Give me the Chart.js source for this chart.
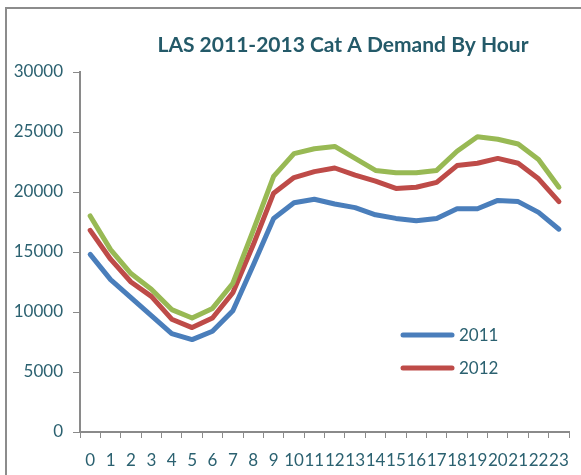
<!DOCTYPE html>
<html>
<head>
<meta charset="utf-8">
<script src="https://cdn.jsdelivr.net/npm/chart.js@4.4.1/dist/chart.umd.min.js"></script>
<style>
  html, body { margin: 0; padding: 0; background: #fff; }
  #wrap { width: 581px; height: 475px; position: relative; }
</style>
</head>
<body>
<div id="wrap"><canvas id="chart" width="581" height="475"></canvas></div>
<script>
const hours = ['0','1','2','3','4','5','6','7','8','9','10','11','12','13','14','15','16','17','18','19','20','21','22','23'];
const demand2011 = [14800, 12700, 11200, 9700, 8200, 7700, 8400, 10100, 13900, 17800, 19100, 19400, 19000, 18700, 18100, 17800, 17600, 17800, 18600, 18600, 19300, 19200, 18300, 16900];
const demand2012 = [16800, 14400, 12500, 11300, 9400, 8700, 9500, 11600, 15600, 19900, 21200, 21700, 22000, 21400, 20900, 20300, 20400, 20800, 22200, 22400, 22800, 22400, 21100, 19200];
const demand2013 = [18000, 15200, 13200, 11900, 10200, 9500, 10300, 12400, 16800, 21300, 23200, 23600, 23800, 22800, 21800, 21600, 21600, 21800, 23400, 24600, 24400, 24000, 22700, 20400];
const yTicks = [0, 5000, 10000, 15000, 20000, 25000, 30000];

const textColor = '#2b6170';
const axisColor = '#8a8a8a';

// frame, title and the two-entry legend like the Excel original
const decor = {
  id: 'decor',
  beforeDraw(chart) {
    const ctx = chart.ctx;
    ctx.save();
    ctx.fillStyle = '#fff';
    ctx.fillRect(0, 0, chart.width, chart.height);
    ctx.strokeStyle = '#8c8c8c';
    ctx.lineWidth = 2;
    ctx.strokeRect(6, 8, 800, 800);
    ctx.restore();
  },
  afterDraw(chart) {
    const ctx = chart.ctx;
    const area = chart.chartArea;
    ctx.save();
    ctx.fillStyle = '#245a69';
    ctx.font = 'bold 21px Lato';
    ctx.textAlign = 'center';
    ctx.textBaseline = 'middle';
    ctx.fillText('LAS 2011-2013 Cat A Demand By Hour', 343, 45);

    const shown = chart.data.datasets.slice(0, 2);
    ctx.font = '17px Lato';
    ctx.textAlign = 'left';
    shown.forEach((ds, i) => {
      const y = area.top + 263 + i * 33;
      ctx.strokeStyle = ds.borderColor;
      ctx.lineWidth = 5;
      ctx.lineCap = 'round';
      ctx.beginPath();
      ctx.moveTo(403, y);
      ctx.lineTo(452, y);
      ctx.stroke();
      ctx.fillStyle = textColor;
      ctx.fillText(ds.label, 459, y + 1);
    });
    ctx.restore();
  }
};

new Chart(document.getElementById('chart'), {
  type: 'line',
  data: {
    labels: hours,
    datasets: [
      { label: '2011', data: demand2011, borderColor: '#4a7ebb', order: 3 },
      { label: '2012', data: demand2012, borderColor: '#be4b48', order: 2 },
      { label: '2013', data: demand2013, borderColor: '#98b954', order: 1 }
    ]
  },
  options: {
    responsive: false,
    animation: false,
    elements: {
      line: { borderWidth: 5, tension: 0, borderJoinStyle: 'round', borderCapStyle: 'round', fill: false },
      point: { radius: 0 }
    },
    layout: { padding: { top: 72, right: 10, left: 0, bottom: 0 } },
    plugins: {
      legend: { display: false },
      title: { display: false },
      tooltip: { enabled: false }
    },
    scales: {
      x: {
        offset: true,
        afterFit(scale) { scale.height = 43; },
        grid: { offset: true, drawOnChartArea: false, tickLength: 6, color: axisColor, lineWidth: 1 },
        border: { color: axisColor, width: 2 },
        ticks: {
          autoSkip: false, maxRotation: 0, minRotation: 0, padding: 12,
          color: textColor, font: { family: 'Lato', size: 17 }
        }
      },
      y: {
        min: 0,
        max: 30000,
        afterFit(scale) { scale.width = 80; },
        afterBuildTicks(scale) { scale.ticks = yTicks.map(v => ({ value: v })); },
        grid: { drawOnChartArea: false, tickLength: 7, color: axisColor, lineWidth: 1 },
        border: { color: axisColor, width: 2 },
        ticks: {
          padding: 10, color: textColor, font: { family: 'Lato', size: 17 },
          callback: v => String(v)
        }
      }
    }
  },
  plugins: [decor]
});
</script>
</body>
</html>
